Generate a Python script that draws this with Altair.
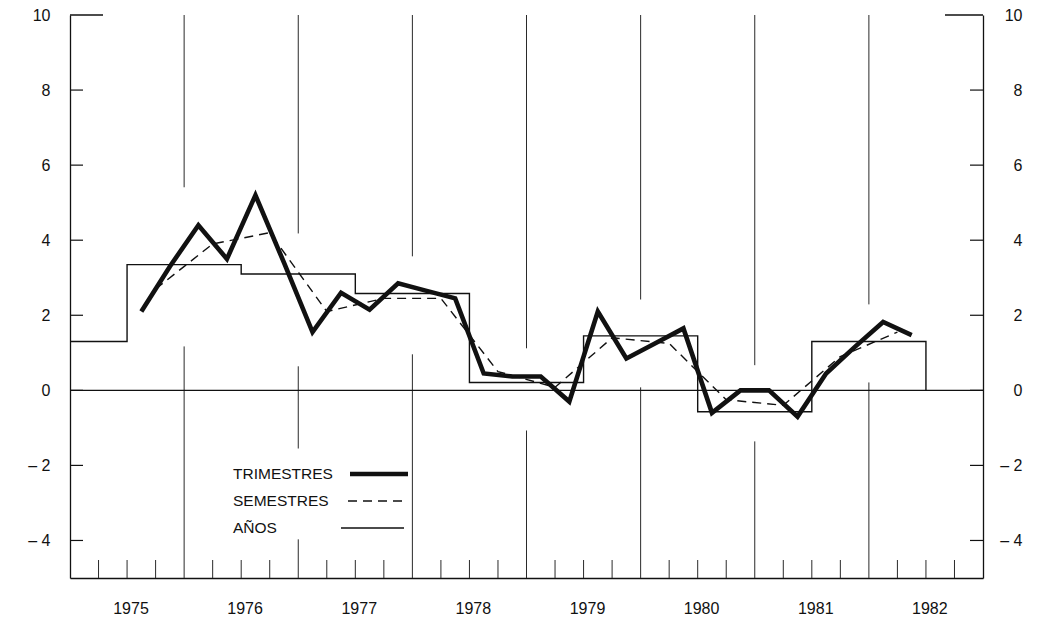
import altair as alt
import pandas as pd

# ---------------- data ----------------
# TRIMESTRES (quarterly)
tri_year = [1975, 1975, 1976, 1976, 1976, 1976, 1977, 1977, 1977, 1977,
            1978, 1978, 1978, 1978, 1979, 1979, 1979, 1979, 1980, 1980,
            1980, 1980, 1981, 1981, 1981, 1981, 1982, 1982]
tri_quarter = [3, 4, 1, 2, 3, 4, 1, 2, 3, 4,
               1, 2, 3, 4, 1, 2, 3, 4, 1, 2,
               3, 4, 1, 2, 3, 4, 1, 2]
tri_value = [2.1, 3.3, 4.4, 3.5, 5.2, 3.4, 1.55, 2.6, 2.15, 2.85,
             2.65, 2.45, 0.45, 0.37, 0.37, -0.3, 2.1, 0.85, 1.25, 1.65,
             -0.6, 0.0, 0.0, -0.7, 0.45, 1.15, 1.82, 1.47]

# SEMESTRES (half-yearly)
sem_year = [1975, 1976, 1976, 1977, 1977, 1978, 1978, 1979, 1979, 1980, 1980, 1981, 1981, 1982]
sem_half = [2, 1, 2, 1, 2, 1, 2, 1, 2, 1, 2, 1, 2, 1]
sem_value = [2.7, 3.9, 4.2, 2.1, 2.45, 2.45, 0.5, 0.08, 1.4, 1.25, -0.25, -0.4, 0.9, 1.55]

# AÑOS (annual, drawn as steps starting at the given half-year)
ano_year = [1975, 1975, 1976, 1977, 1978, 1979, 1980, 1981, 1982]
ano_half = [1, 2, 2, 2, 2, 2, 2, 2, 2]
ano_value = [1.3, 3.35, 3.1, 2.58, 0.21, 1.45, -0.57, 1.3, 0.0]

# year-boundary vertical lines, broken where the curves pass
grid_year = [1976, 1976, 1977, 1977, 1977, 1978, 1978, 1979, 1979,
             1980, 1980, 1981, 1981, 1982, 1982]
grid_from = [10, 1.17, 10, 0.64, -3.97, 10, 0.96, 10, -1.07, 10, 0.08, 10, -1.36, 10, 0.21]
grid_to = [5.41, -5, 4.18, -1.55, -5, 3.57, -5, 1.12, -5, 2.42, -5, 0.67, -5, 2.29, -5]

y_ticks = [-4, -2, 0, 2, 4, 6, 8, 10]
year_labels = [1975, 1976, 1977, 1978, 1979, 1980, 1981, 1982]
legend_labels = ["TRIMESTRES", "SEMESTRES", "AÑOS"]

# ---------------- layout / style ----------------
W, H = 913, 563
FONT = "Liberation Sans"
INK = "#111111"
GRID = "#2a2a2a"

tri = pd.DataFrame({"year": tri_year, "q": tri_quarter, "v": tri_value})
tri["t"] = tri["year"] + (tri["q"] - 0.5) / 4
sem = pd.DataFrame({"year": sem_year, "h": sem_half, "v": sem_value})
sem["t"] = sem["year"] + (sem["h"] - 0.5) / 2
ano = pd.DataFrame({"year": ano_year, "h": ano_half, "v": ano_value})
ano["t"] = ano["year"] + (ano["h"] - 1) / 2
grid = pd.DataFrame({"t": grid_year, "a": grid_from, "b": grid_to})
qticks = pd.DataFrame({"t": [y + q / 4 for y in range(1975, 1983) for q in (1, 2, 3)]})
yt = pd.DataFrame({"v": [v for v in y_ticks if v != 10]})
ytop = pd.DataFrame({"v": [10]})

xscale = alt.Scale(domain=[1975, 1983], nice=False, zero=False)
yscale = alt.Scale(domain=[-5, 10], nice=False, zero=False)

label_expr = "datum.value < 0 ? '\u2013 ' + abs(datum.value) : datum.label"

x_axis = alt.Axis(values=[y + 0.53 for y in year_labels], labelExpr="floor(datum.value)",
                  title=None, domain=True, domainColor=INK, domainWidth=1.3,
                  ticks=False, grid=False, labelPadding=22, labelFont=FONT,
                  labelFontSize=16, labelColor=INK)
y_axis_left = alt.Axis(values=y_ticks, labelExpr=label_expr, title=None, orient="left",
                       domain=True, domainColor=INK, domainWidth=1.3, ticks=False,
                       grid=False, labelPadding=20, labelFont=FONT, labelFontSize=16,
                       labelColor=INK)
y_axis_right = alt.Axis(values=y_ticks, labelExpr=label_expr, title=None, orient="right",
                        domain=True, domainColor=INK, domainWidth=1.3, ticks=False,
                        grid=False, labelPadding=39, labelAlign="right", labelFont=FONT,
                        labelFontSize=16, labelColor=INK)

X = lambda f: alt.X(f, type="quantitative", scale=xscale, axis=x_axis)
Y = lambda f: alt.Y(f, type="quantitative", scale=yscale, axis=y_axis_left)

gridlines = alt.Chart(grid).mark_rule(color=GRID, strokeWidth=1).encode(
    x=X("t"), y=Y("a"), y2="b:Q")

zero_line = alt.Chart(ytop).transform_calculate(zero="0").mark_rule(
    color=INK, strokeWidth=1.2).encode(y=Y("zero"), x=alt.value(0), x2=alt.value(W))

bottom_ticks = alt.Chart(qticks).mark_rule(color=GRID, strokeWidth=1).encode(
    x=X("t"), y=alt.value(H - 18), y2=alt.value(H))

left_ticks = alt.Chart(yt).mark_rule(color=INK, strokeWidth=1.2).encode(
    y=Y("v"), x=alt.value(0), x2=alt.value(13))
left_top = alt.Chart(ytop).mark_rule(color=INK, strokeWidth=1.3).encode(
    y=Y("v"), x=alt.value(0), x2=alt.value(33))
right_top = alt.Chart(ytop).mark_rule(color=INK, strokeWidth=1.3).encode(
    y=Y("v"), x=alt.value(W - 38), x2=alt.value(W))

anos = alt.Chart(ano).mark_line(color=INK, strokeWidth=1.4, interpolate="step-after").encode(
    x=X("t"), y=Y("v"))
semes = alt.Chart(sem).mark_line(color=INK, strokeWidth=1.4, strokeDash=[9, 6]).encode(
    x=X("t"), y=Y("v"))
trims = alt.Chart(tri).mark_line(color=INK, strokeWidth=4.6, strokeJoin="miter",
                                 strokeCap="butt").encode(x=X("t"), y=Y("v"))

# hand-drawn key, as in the original
leg_rows = [
    dict(ty=459, x1=280, x2=338, sw=4.6, dash=[1, 0]),
    dict(ty=486, x1=278, x2=337, sw=1.4, dash=[9, 6]),
    dict(ty=513, x1=271, x2=334, sw=1.4, dash=[1, 0]),
]
legend_layers = []
for lab, r in zip(legend_labels, leg_rows):
    d = pd.DataFrame({"label": [lab]})
    legend_layers.append(
        alt.Chart(d).mark_text(align="left", baseline="middle", font=FONT, fontSize=15.5,
                               color=INK).encode(text="label:N", x=alt.value(163),
                                                 y=alt.value(r["ty"])))
    legend_layers.append(
        alt.Chart(d).mark_rule(color=INK, strokeWidth=r["sw"], strokeDash=r["dash"]).encode(
            x=alt.value(r["x1"]), x2=alt.value(r["x2"]), y=alt.value(r["ty"])))

main = alt.layer(gridlines, zero_line, bottom_ticks, left_ticks, left_top, right_top,
                 anos, semes, trims, *legend_layers)

right_side = alt.Chart(yt).mark_rule(color=INK, strokeWidth=1.2).encode(
    y=alt.Y("v:Q", scale=yscale, axis=y_axis_right), x=alt.value(W - 13), x2=alt.value(W))

chart = alt.layer(main, right_side).resolve_scale(y="independent").properties(
    width=W, height=H,
    autosize=alt.AutoSizeParams(type="none"),
    padding={"left": 62, "top": 7, "right": 48, "bottom": 37},
    background="white",
).configure_view(strokeWidth=0)

chart.save("out.html", embed_options={"renderer": "svg", "actions": False})
